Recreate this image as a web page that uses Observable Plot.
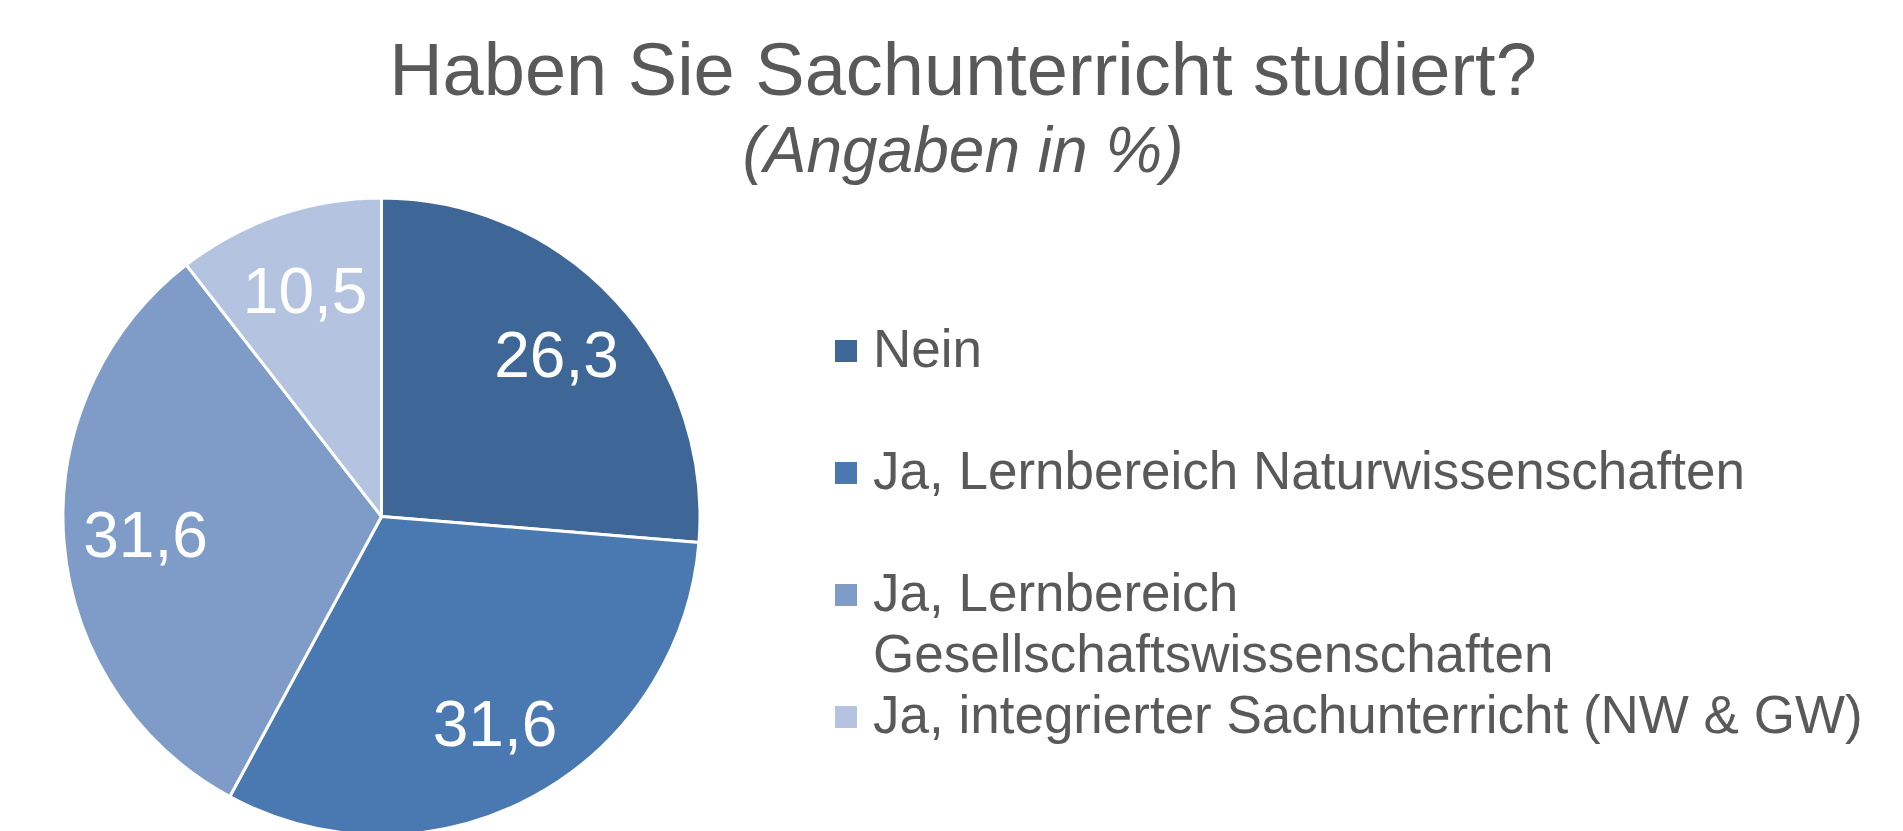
<!DOCTYPE html>
<html>
<head>
<meta charset="utf-8">
<script src="https://cdn.jsdelivr.net/npm/d3@7"></script>
<script src="https://cdn.jsdelivr.net/npm/@observablehq/plot@0.6"></script>
<style>
  html, body { margin: 0; padding: 0; background: #fff; overflow: hidden; }
  #page { position: relative; width: 1903px; height: 831px; overflow: hidden;
          font-family: "Liberation Sans", Arial, sans-serif; color: #595959; }
  .ttl { position: absolute; left: 23px; width: 1880px; text-align: center; white-space: nowrap; margin: 0; font-weight: normal; }
  #title { top: 33px; font-size: 74px; line-height: 74px; }
  #subtitle { top: 118px; font-size: 64px; line-height: 64px; font-style: italic; }
  #chart { position: absolute; left: 0; top: 190px; }
  #legend { position: absolute; left: 0; top: 0; }
  .sw { position: absolute; width: 22px; height: 22px; }
  .lt { position: absolute; font-size: 53px; line-height: 61px; width: 1025px; white-space: normal; }
</style>
</head>
<body>
<div id="page">
  <h1 class="ttl" id="title"></h1>
  <h2 class="ttl" id="subtitle"></h2>
  <div id="chart"></div>
  <div id="legend"></div>
</div>
<script>
// ---- data ----
const titleText = "Haben Sie Sachunterricht studiert?";
const subtitleText = "(Angaben in %)";
const categories = [
  "Nein",
  "Ja, Lernbereich Naturwissenschaften",
  "Ja, Lernbereich Gesellschaftswissenschaften",
  "Ja, integrierter Sachunterricht (NW & GW)"
];
const values = [26.3, 31.6, 31.6, 10.5];
const valueLabels = ["26,3", "31,6", "31,6", "10,5"];
const colors = ["#3E6696", "#4A78B0", "#7F9CC8", "#B4C3DF"];

// ---- layout ----
const W = 1903, H = 641;
const cx = 381.5, cy = 326.5, R = 318.5;
const labelRadius = 0.745;

document.getElementById("title").textContent = titleText;
document.getElementById("subtitle").textContent = subtitleText;

const rows = categories.map((c, i) => ({category: c, value: values[i], label: valueLabels[i]}));
const arcs = d3.pie().sort(null).value(d => d.value)(rows);
const mid = d => (d.startAngle + d.endAngle) / 2;

function pieMark(index, scales) {
  const sx = scales.x, sy = scales.y;
  const color = (scales.color) || d3.scaleOrdinal(categories, colors);
  const x0 = sx(0), y0 = sy(0), r = Math.abs(sx(1) - sx(0));
  const arc = d3.arc().innerRadius(0).outerRadius(r);
  const g = d3.create("svg:g").attr("transform", `translate(${x0},${y0})`);
  g.selectAll("path").data(arcs).join("path")
    .attr("d", arc)
    .attr("fill", d => color(d.data.category))
    .attr("stroke", "white")
    .attr("stroke-width", 3)
    .attr("stroke-linejoin", "round");
  return g.node();
}

const plot = Plot.plot({
  width: W, height: H,
  margin: 0,
  style: {background: "transparent", overflow: "visible"},
  x: {domain: [-1, 1], range: [cx - R, cx + R], axis: null},
  y: {domain: [-1, 1], range: [cy + R, cy - R], axis: null},
  color: {domain: categories, range: colors},
  marks: [
    pieMark,
    Plot.dot(arcs, {x: 0, y: 0, r: 0, fill: d => d.data.category}),
    Plot.text(arcs, {
      x: d => labelRadius * Math.sin(mid(d)),
      y: d => labelRadius * Math.cos(mid(d)),
      text: d => d.data.label,
      fill: "white",
      fontSize: 64,
      fontFamily: "Liberation Sans, Arial, sans-serif"
    })
  ]
});
document.getElementById("chart").appendChild(plot);

// ---- legend (HTML, from the same arrays and colour scale) ----
const colorScale = plot.scale && plot.scale("color");
const colorOf = c => colorScale ? colors[colorScale.domain.indexOf(c)] : colors[categories.indexOf(c)];
const legend = document.getElementById("legend");
const legendX = 835, textX = 873, firstBaseline = 367, pitch = 122;
categories.forEach((c, i) => {
  const base = firstBaseline + i * pitch;
  const sw = document.createElement("div");
  sw.className = "sw";
  sw.style.left = legendX + "px";
  sw.style.top = (base - 27) + "px";
  sw.style.background = colorOf(c);
  legend.appendChild(sw);
  const t = document.createElement("div");
  t.className = "lt";
  t.style.left = textX + "px";
  t.style.top = (base - 48.9) + "px";
  t.textContent = c;
  legend.appendChild(t);
});
</script>
</body>
</html>
